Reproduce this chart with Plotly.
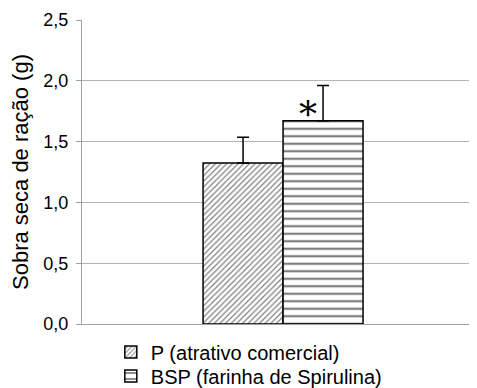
import plotly.graph_objects as go

series_names = ["P (atrativo comercial)", "BSP (farinha de Spirulina)"]
means = [1.325, 1.672]
errors_up = [0.21, 0.29]
patterns = ["/", "-"]
y_ticks = [0.0, 0.5, 1.0, 1.5, 2.0, 2.5]
y_tick_labels = ["0,0", "0,5", "1,0", "1,5", "2,0", "2,5"]

# page body has an 8px default margin; the figure is sized to fill the rest of the window
W, H = 469, 380

fig = go.Figure()
legend_ids = ["legend", "legend2"]
for name, m, e, p, size, lg in zip(series_names, means, errors_up, patterns, [4, 7.5], legend_ids):
    fig.add_trace(go.Bar(
        x=[0], y=[m], name=name, legend=lg,
        marker=dict(color="white", line=dict(color="black", width=1.5),
                    pattern=dict(shape=p, fgcolor="black", bgcolor="white", size=size, solidity=0.3)),
        error_y=dict(type="data", symmetric=False, array=[e], arrayminus=[0],
                     color="black", thickness=1.5, width=6),
    ))

fig.add_annotation(x=0.055, xref="x", y=means[1], yref="y", text="*", showarrow=False,
                   yanchor="bottom", yshift=-16, xshift=3,
                   font=dict(family="DejaVu Serif", size=36, color="black"))

legend_common = dict(orientation="v", xanchor="left", yanchor="middle", yref="container",
                     font=dict(size=20), itemwidth=30, bgcolor="rgba(0,0,0,0)")

fig.update_layout(
    width=W, height=H,
    margin=dict(l=74, r=0, t=12, b=64),
    paper_bgcolor="white", plot_bgcolor="white",
    barmode="group", bargap=0.595, bargroupgap=0,
    separators=",.",
    font=dict(family="Liberation Sans, Arial", color="black"),
    showlegend=True,
    legend=dict(x=0.073, y=0.0947, **legend_common),
    legend2=dict(x=0.073, y=0.0316, **legend_common),
    xaxis=dict(range=[-0.509, 0.491], showticklabels=False, ticks="", showgrid=False,
               zeroline=False, showline=True, linecolor="#a0a0a0", linewidth=1,
               automargin=False),
    yaxis=dict(range=[0, 2.5], tickvals=y_ticks, ticktext=y_tick_labels,
               showgrid=True, gridcolor="#b4b4b4", gridwidth=1, zeroline=False,
               showline=True, linecolor="#a0a0a0", linewidth=1,
               ticks="outside", ticklen=5, tickcolor="#a0a0a0", ticklabelstandoff=4,
               tickfont=dict(size=18), automargin=False,
               title=dict(text="Sobra seca de ração (g)", font=dict(size=22), standoff=8)),
)

fig.write_html("out.html")
